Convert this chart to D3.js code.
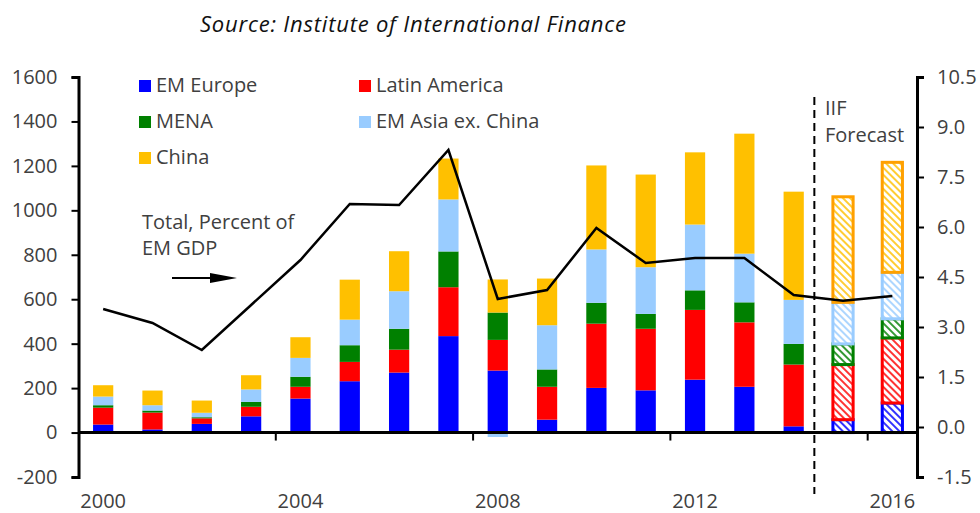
<!DOCTYPE html>
<html>
<head>
<meta charset="utf-8">
<script src="https://cdn.jsdelivr.net/npm/d3@7"></script>
<style>
  body { margin: 0; background: #fff; }
  svg { display: block; font-family: "Open Sans", sans-serif; }
  .lbl { fill: #404040; font-size: 20px; }
</style>
</head>
<body>
<div id="chart"></div>
<script>
// data ($bn, stacked by region; line = total as % of EM GDP)
const years = d3.range(2000, 2017).map(String);
const forecastYears = ["2015", "2016"];
const keys = ["emEurope", "latAm", "mena", "emAsia", "china"];
const names = ["EM Europe", "Latin America", "MENA", "EM Asia ex. China", "China"];
const colors = ["#0000ff", "#ff0000", "#008000", "#99ccff", "#ffc000"];
const forecastStroke = ["#0000ff", "#ff0000", "#008000", "#99ccff", "#ffa000"];

const emEurope = [36, 14, 39, 73, 153, 231, 270, 434, 279, 58, 201, 190, 238, 206, 28, 58, 133];
const latAm    = [76, 76, 25, 43, 53, 87, 103, 220, 138, 148, 289, 277, 314, 290, 278, 248, 293];
const mena     = [11, 9, 5, 22, 45, 75, 94, 161, 123, 78, 94, 67, 88, 90, 93, 93, 86];
const emAsia   = [39, 24, 20, 56, 85, 115, 169, 234, -20, 199, 240, 210, 296, 219, 198, 187, 209];
const china    = [51, 66, 55, 64, 93, 180, 180, 184, 149, 210, 378, 417, 325, 540, 487, 475, 495];
const pctGdp   = [3.54, 3.12, 2.31, 3.66, 5.01, 6.69, 6.66, 8.31, 3.84, 4.11, 5.97, 4.92, 5.07, 5.07, 3.96, 3.79, 3.93];

const leftTicks = d3.range(-200, 1601, 200);
const rightTicks = d3.range(-1.5, 10.6, 1.5);
const xLabels = ["2000", "2004", "2008", "2012", "2016"];

const width = 980, height = 513;
const plotLeft = 78.5, plotRight = 917, plotTop = 77, plotBottom = 477;

const svg = d3.select("#chart").append("svg")
  .attr("width", width).attr("height", height);

const table = years.map((y, i) => ({
  year: y, emEurope: emEurope[i], latAm: latAm[i], mena: mena[i], emAsia: emAsia[i], china: china[i]
}));

const x = d3.scaleBand().domain(years).range([plotLeft, plotRight])
  .paddingInner(0.59).paddingOuter(0.295);
const yL = d3.scaleLinear().domain([-200, 1600]).range([plotBottom, plotTop]);
const yR = d3.scaleLinear().domain([-1.5, 10.5]).range([plotBottom, plotTop]);
const color = d3.scaleOrdinal().domain(keys).range(colors);
const fcColor = d3.scaleOrdinal().domain(keys).range(forecastStroke);

// hatch patterns for forecast bars
const defs = svg.append("defs");
keys.forEach((k, i) => {
  const p = defs.append("pattern")
    .attr("id", "hatch-" + k)
    .attr("patternUnits", "userSpaceOnUse")
    .attr("width", 5).attr("height", 5)
    .attr("patternTransform", "rotate(-45)");
  p.append("rect").attr("width", 5).attr("height", 5).attr("fill", "#fff");
  p.append("line").attr("x1", 1).attr("y1", 0).attr("x2", 1).attr("y2", 5)
    .attr("stroke", colors[i]).attr("stroke-width", 1.6);
});

// title
svg.append("text")
  .attr("x", 200).attr("y", 32)
  .attr("font-size", 22).attr("font-style", "italic").attr("fill", "#111")
  .attr("textLength", 426)
  .text("Source: Institute of International Finance");

// stacked bars
const series = d3.stack().keys(keys).offset(d3.stackOffsetDiverging)(table);
const isFc = d => forecastYears.includes(d.data.year);

const layers = svg.append("g").selectAll("g")
  .data(series)
  .join("g");

layers.selectAll("rect")
  .data(s => s.map(d => Object.assign(d, { key: s.key })))
  .join("rect")
  .attr("x", d => x(d.data.year))
  .attr("width", x.bandwidth())
  .attr("y", d => yL(Math.max(d[0], d[1])))
  .attr("height", d => Math.abs(yL(d[0]) - yL(d[1])))
  .attr("fill", d => isFc(d) ? "url(#hatch-" + d.key + ")" : color(d.key))
  .attr("stroke", d => isFc(d) ? fcColor(d.key) : "none")
  .attr("stroke-width", 3);

// left axis
const axL = svg.append("g")
  .attr("transform", `translate(${plotLeft},0)`)
  .call(d3.axisLeft(yL).tickValues(leftTicks).tickFormat(d => String(d))
    .tickSize(7).tickSizeOuter(7).tickPadding(14));

// right axis
const axR = svg.append("g")
  .attr("transform", `translate(${plotRight},0)`)
  .call(d3.axisRight(yR).tickValues(rightTicks).tickFormat(d => d.toFixed(1))
    .tickSize(7).tickSizeOuter(7).tickPadding(13));

[axL, axR].forEach(ax => {
  ax.select(".domain").attr("stroke", "#000").attr("stroke-width", 3);
  ax.selectAll(".tick line").attr("stroke", "#000").attr("stroke-width", 2);
  ax.selectAll(".tick text").attr("class", "lbl").attr("font-family", null).attr("font-size", null);
  ax.attr("font-family", null).attr("font-size", null);
});

// zero line and x ticks
svg.append("line")
  .attr("x1", plotLeft).attr("x2", plotRight)
  .attr("y1", yL(0)).attr("y2", yL(0))
  .attr("stroke", "#000").attr("stroke-width", 3);

const step = x.step();
svg.append("g").selectAll("line")
  .data(xLabels.slice(1))
  .join("line")
  .attr("x1", d => x(d) + x.bandwidth() / 2 - step / 2)
  .attr("x2", d => x(d) + x.bandwidth() / 2 - step / 2)
  .attr("y1", yL(0)).attr("y2", yL(0) + 8)
  .attr("stroke", "#000").attr("stroke-width", 2);

svg.append("g").selectAll("text")
  .data(xLabels)
  .join("text")
  .attr("class", "lbl")
  .attr("x", d => x(d) + x.bandwidth() / 2)
  .attr("y", 508)
  .attr("text-anchor", "middle")
  .text(d => d);

// total line (right axis)
const line = d3.line()
  .x((d, i) => x(years[i]) + x.bandwidth() / 2)
  .y(d => yR(d));

svg.append("path")
  .datum(pctGdp)
  .attr("d", line)
  .attr("fill", "none")
  .attr("stroke", "#000")
  .attr("stroke-width", 2.5);

// forecast divider
const divX = x("2015") - (step - x.bandwidth()) / 2 - 4;
svg.append("line")
  .attr("x1", divX).attr("x2", divX)
  .attr("y1", 97).attr("y2", 494)
  .attr("stroke", "#000").attr("stroke-width", 2)
  .attr("stroke-dasharray", "8,5");

svg.append("text").attr("class", "lbl").attr("x", 825).attr("y", 115).text("IIF");
svg.append("text").attr("class", "lbl").attr("x", 825).attr("y", 142).text("Forecast");

// legend
const legend = svg.append("g").selectAll("g")
  .data(keys)
  .join("g")
  .attr("transform", (d, i) => `translate(${i % 2 ? 359 : 139},${80 + Math.floor(i / 2) * 36})`);

legend.append("rect").attr("width", 12).attr("height", 12).attr("fill", d => color(d));
legend.append("text").attr("class", "lbl")
  .attr("x", 17).attr("y", 12)
  .text((d, i) => names[i]);

// annotation
svg.append("text").attr("class", "lbl").attr("x", 142).attr("y", 229).text("Total, Percent of");
svg.append("text").attr("class", "lbl").attr("x", 142).attr("y", 255).text("EM GDP");
svg.append("line")
  .attr("x1", 172).attr("x2", 212).attr("y1", 278).attr("y2", 278)
  .attr("stroke", "#000").attr("stroke-width", 2);
svg.append("path")
  .attr("d", "M210,273L237,278L210,283Z")
  .attr("fill", "#000");
</script>
</body>
</html>
